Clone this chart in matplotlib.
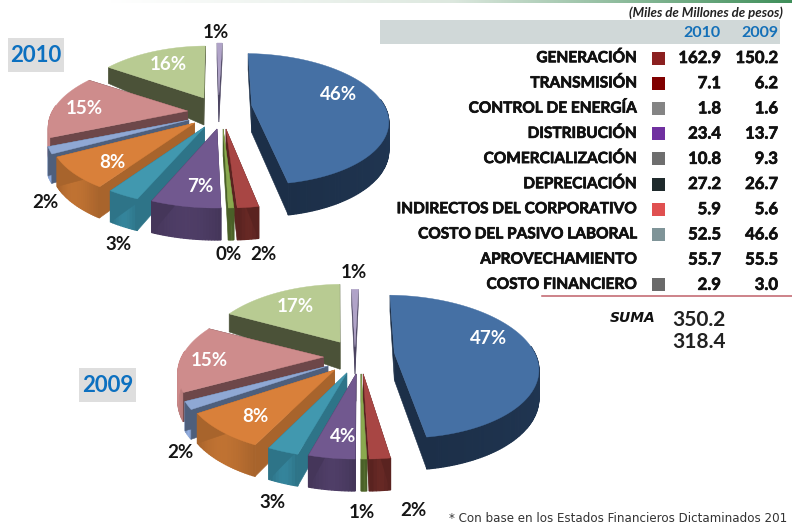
import matplotlib
matplotlib.use("Agg")
import matplotlib.pyplot as plt
import matplotlib.colors as mcolors
import matplotlib.patheffects as pe
from matplotlib.patches import Polygon, Rectangle
import numpy as np

plt.rcParams['font.family'] = ['Lato', 'DejaVu Sans']

# table data
rubros = ["GENERACIÓN", "TRANSMISIÓN", "CONTROL DE ENERGÍA", "DISTRIBUCIÓN",
          "COMERCIALIZACIÓN", "DEPRECIACIÓN", "INDIRECTOS DEL CORPORATIVO",
          "COSTO DEL PASIVO LABORAL", "APROVECHAMIENTO", "COSTO FINANCIERO"]
valores_2010 = [162.9, 7.1, 1.8, 23.4, 10.8, 27.2, 5.9, 52.5, 55.7, 2.9]
valores_2009 = [150.2, 6.2, 1.6, 13.7, 9.3, 26.7, 5.6, 46.6, 55.5, 3.0]
suma_2010 = "350.2"
suma_2009 = "318.4"

# pie labels as printed on the slide
pct_2010 = ["46%", "2%", "0%", "7%", "3%", "8%", "2%", "15%", "16%", "1%"]
pct_2009 = ["47%", "2%", "1%", "4%", "3%", "8%", "2%", "15%", "17%", "1%"]

# slice styles
top_colors = ["#4570A4", "#A84644", "#8AA94E", "#71588F", "#4198AF",
              "#D9803A", "#8FA8D4", "#CE8C8C", "#B8CB92", "#B0A3C8"]
side_colors = ["#1C2F48", "#5A2320", "#4A6028", "#45365A", "#2E7488",
               "#A8642C", "#4E5F7C", "#6D4749", "#4B5238", "#4A4360"]
rim_colors = ["#1C2F48", "#5A2320", "#4A6028", "#45365A", "#2E7488",
              "#A8642C", "#7F98C4", "#B57A7A", "#4B5238", "#4A4360"]
legend_colors = ["#8B2020", "#800000", "#848484", "#7030A0", "#6E6E6E",
                 "#1F2A2C", "#E05050", "#7F9498", None, "#6A6A6A"]

# per slice explode in pie units (right, towards viewer)
explode_2010 = [(.254, -.19), (.056, .168), (.036, .168), (-.007, .168), (-.094, .137),
                (-.167, .076), (-.21, .03), (-.225, -.107), (-.109, -.305), (.007, -.351)]
explode_2009 = [(.28, -.167), (.055, .125), (.041, .125), (.007, .125), (-.055, .111),
                (-.138, .069), (-.186, .014), (-.221, -.111), (-.11, -.319), (0, -.25)]

# label positions and colours (image pixels)
label_xy_2010 = [(339, 95), (263, 255), (229, 254), (200, 186), (118, 245),
                 (112, 163), (45, 202), (84, 109), (168, 65), (216, 32)]
label_xy_2009 = [(489, 338), (413, 511), (362, 512), (343, 436), (273, 503),
                 (255, 416), (180, 453), (209, 360), (295, 307), (354, 272)]
label_white = [True, False, False, True, False, True, False, True, True, False]

draw_order = [9, 8, 0, 7, 6, 5, 4, 1, 2, 3]


def depth(w):
    return np.interp(w, [-.53, 0, 1], [16, 27, 32])


def draw_pie(ax, values, explode, start, pie):
    values = np.array(values)
    sweep = values / values.sum() * 360
    ends = start + np.cumsum(sweep)
    starts = ends - sweep
    cx, cy, rx, ry, q = pie["cx"], pie["cy"], pie["rx"], pie["ry"], pie["q"]
    for i in draw_order:
        du, dw = explode[i]
        n = max(4, int(sweep[i]))
        ang = np.radians(np.linspace(starts[i], ends[i], n))
        u = np.sin(ang)
        w = -np.cos(ang)
        # x keeps the perspective of the whole pie, y only that of the slice
        xt = cx + rx * (du + u) * (1 + q * (dw + w))
        yt = cy + ry * dw + ry * w * (1 + q * w)
        ax0 = cx + rx * du * (1 + q * dw)
        ay0 = cy + ry * dw
        d = depth(w)
        side = side_colors[i]
        # rim, cut in pieces for a soft shading
        rgb = np.array(mcolors.to_rgb(rim_colors[i]))
        keep = w > -.1
        for k in range(n - 1):
            if not (keep[k] and keep[k + 1]):
                continue
            shade = 1 + .14 * np.sin(np.pi * k / max(1, n - 2))
            col = np.clip(rgb * shade, 0, 1)
            face = [(xt[k], yt[k]), (xt[k + 1], yt[k + 1]),
                    (xt[k + 1], yt[k + 1] + d[k + 1]), (xt[k], yt[k] + d[k])]
            ax.add_patch(Polygon(face, fc=col, ec=col, lw=.9))
        # radial faces
        for k in (0, -1):
            face = [(ax0, ay0), (xt[k], yt[k]), (xt[k], yt[k] + d[k]), (ax0, ay0 + depth(0))]
            ax.add_patch(Polygon(face, fc=side, ec=side, lw=.4))
        # top
        top = [(ax0, ay0)] + list(zip(xt, yt))
        ax.add_patch(Polygon(top, fc=top_colors[i], ec=top_colors[i], lw=.3))


fig = plt.figure(figsize=(7.92, 5.28), dpi=100)
ax = fig.add_axes([0, 0, 1, 1])

# green bar at top of the slide
bar = np.linspace(0, 1, 256).reshape(1, -1)
cmap = mcolors.LinearSegmentedColormap.from_list("bar", ["#FFFFFF", "#DDE8DF", "#3F8F5A"])
ax.imshow(bar, extent=(110, 792, 3, 0), cmap=cmap, aspect="auto", zorder=1)
ax.set_xlim(0, 792)
ax.set_ylim(528, 0)
ax.axis("off")

pie_2010 = {"cx": 218, "cy": 118, "rx": 138, "ry": 65.5, "q": .206}
pie_2009 = {"cx": 355, "cy": 365, "rx": 145, "ry": 71.5, "q": .19}
draw_pie(ax, valores_2010, explode_2010, 2.0, pie_2010)
draw_pie(ax, valores_2009, explode_2009, 1.7, pie_2009)

for labels, xy in ((pct_2010, label_xy_2010), (pct_2009, label_xy_2009)):
    for txt, (x, y), white in zip(labels, xy, label_white):
        ax.text(x, y, txt, ha="center", va="center", fontsize=13.5, fontweight="bold",
                color="white" if white else "#151515", zorder=5)

# year boxes
ax.add_patch(Rectangle((8, 38), 56, 34, fc="#DEDEDE", ec="none"))
ax.text(36, 55, "2010", ha="center", va="center", fontsize=16, fontweight="bold", color="#0C70C0")
ax.add_patch(Rectangle((79, 368), 57, 34, fc="#DEDEDE", ec="none"))
ax.text(107.5, 385, "2009", ha="center", va="center", fontsize=16, fontweight="bold", color="#0C70C0")

# table
thick = [pe.withStroke(linewidth=.5, foreground="#111111")]
ax.add_patch(Rectangle((380, 20), 400, 24, fc="#D0D8D8", ec="none"))
ax.text(783, 13, "(Miles de Millones de pesos)", ha="right", va="center", fontsize=9.5,
        fontstyle="italic", fontweight="bold", color="#222222")
ax.text(721, 33, "2010", ha="right", va="center", fontsize=11.5, fontweight="bold", color="#1470B8")
ax.text(778, 33, "2009", ha="right", va="center", fontsize=11.5, fontweight="bold", color="#1470B8")

row_top = 58
row_step = 25.2
for i, name in enumerate(rubros):
    y = row_top + i * row_step
    ax.text(637, y, name, ha="right", va="center", fontsize=11.1, fontweight="bold",
            color="#111111", path_effects=thick)
    if legend_colors[i]:
        ax.add_patch(Rectangle((652, y - 6.5), 13, 13, fc=legend_colors[i], ec="none"))
    ax.text(721, y, f"{valores_2010[i]:.1f}", ha="right", va="center", fontsize=12,
            fontweight="bold", color="#111111", path_effects=thick)
    ax.text(778, y, f"{valores_2009[i]:.1f}", ha="right", va="center", fontsize=12,
            fontweight="bold", color="#111111", path_effects=thick)

ax.plot([542, 792], [296, 296], color="#C0606A", lw=1.1)
ax.text(656, 318, "SUMA", ha="right", va="center", fontsize=10, fontstyle="italic",
        fontweight="bold", color="#111111", family="DejaVu Sans")
ax.text(726, 320, suma_2010, ha="right", va="center", fontsize=15, color="#222222", fontweight="bold")
ax.text(726, 342, suma_2009, ha="right", va="center", fontsize=15, color="#222222", fontweight="bold")

ax.text(449, 518, "* Con base en los Estados Financieros Dictaminados 201", ha="left", va="center",
        fontsize=8.6, color="#333333", family="DejaVu Sans")

fig.savefig("out.png", dpi=100)
